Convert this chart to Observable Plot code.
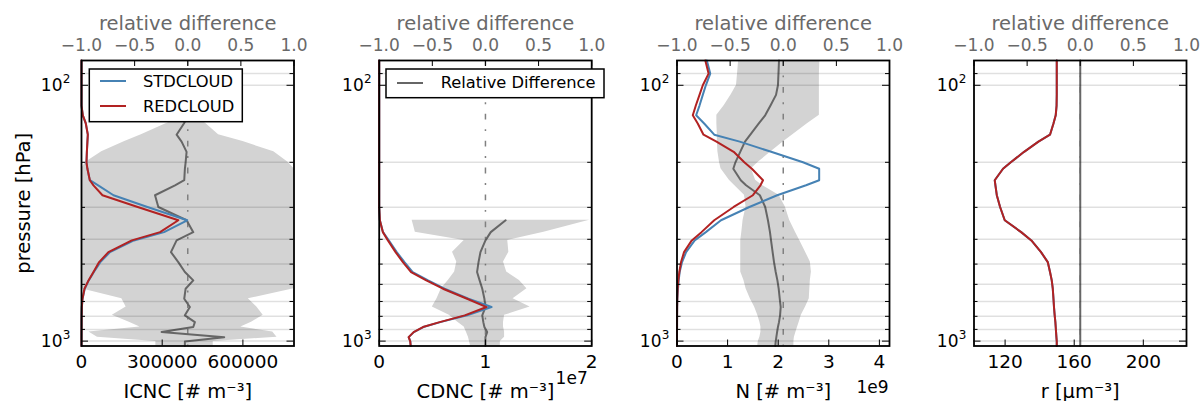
<!DOCTYPE html>
<html><head><meta charset="utf-8">
<script src="https://cdn.jsdelivr.net/npm/d3@7"></script>
<script src="https://cdn.jsdelivr.net/npm/@observablehq/plot@0.6"></script>
<style>
html,body{margin:0;padding:0;background:#fff;}
#chart{position:relative;width:1203px;height:401px;overflow:hidden;font-family:"DejaVu Sans",sans-serif;}
#chart svg{position:absolute;left:0;top:0;}
</style></head><body><div id="chart"></div>
<script>
// pressure levels (hPa)
const levels = [80, 90, 100, 109, 120, 131, 141, 156, 166, 182, 200, 212, 235, 246, 269, 299, 337, 375, 404, 449, 491, 537, 579, 624, 683, 736, 793, 843, 881, 922, 965, 1003, 1045];
const gridLevels = [90, 100, 200, 300, 400, 500, 600, 700, 800, 900, 1000];
const yMajor = [100, 1000];
const yMinor = [90, 200, 300, 400, 500, 600, 700, 800, 900];
const yExponents = ["2", "3"];
const relTicks = [-1, -0.5, 0, 0.5, 1];
const N = null;

// ICNC panel
const icncStd = [0,0,0,0,0, 5000,16000,23500,22000,20000, 18500,22000,31000,62000,119000, 245000,393000,307000,195000,106000, 70000,46000,27000,12000,4000, 1300,500,300,200,100, 0,0,0];
const icncRed = [0,0,0,0,0, 5000,16000,23500,22000,20000, 18500,22000,31000,44500,78000, 209000,360000,292000,187000,100000, 65500,44500,26000,11000,3700, 1200,500,300,200,100, 0,0,0];
const icncRel = [N,N,N,N,N, 0.005,-0.036,-0.105,-0.058,-0.011, -0.02,-0.027,-0.033,-0.12,-0.308, -0.277,-0.011,0.052,-0.105,-0.158, -0.089,-0.027,0.052,-0.02,-0.033, 0.02,-0.027,0.067,0.052,-0.246, 0.343,-0.027,-0.027];
const icncLo = [N,N,N,N,N, -0.02,-0.2,-0.437,-0.593,-0.81, -0.96,-1,-1,-1,-1, -1,-1,-1,-1,-1, -1,-1,-1,-1,-0.62, -0.58,-0.71,-0.55,-0.45,-0.93, -0.85,-0.3,-0.3];
const icncHi = [N,N,N,N,N, 0.06,0.17,0.29,0.52,0.81, 0.944,1,1,1,1, 1,1,1,1,1, 1,1,1,1,0.57, 0.65,0.71,0.6,0.5,0.8, 0.84,0.24,0.24];

// CDNC panel
const cdncStd = [0,0,0,0,0, 0,0,0,0,0, 0,0,0,0,0, 0, 63000,360000,900000,1650000,2380000, 3150000,4600000,6150000,8400000,10570000, 8270000,5750000,4150000,3260000,2780000, 2930000,2970000];
const cdncRed = [0,0,0,0,0, 0,0,0,0,0, 0,0,0,0,0, 0, 63000,346000,818000,1540000,2230000, 3000000,4430000,6000000,8270000,10100000, 8050000,5690000,4120000,3240000,2770000, 2920000,2960000];
const cdncRel = [N,N,N,N,N, N,N,N,N,N, N,N,N,N,N, N, 0.19,0.05,0.0,-0.047,-0.065, -0.079,-0.055,-0.03,-0.01,0.0, -0.03,-0.02,-0.01,0.016,0.0, 0.0,0.0];
const cdncLo = [N,N,N,N,N, N,N,N,N,N, N,N,N,N,N, N, -0.69,-0.66,-0.2,-0.31,-0.27, -0.29,-0.35,-0.415,-0.456,-0.5, -0.34,-0.26,-0.2,-0.18,-0.16, -0.15,-0.14];
const cdncHi = [N,N,N,N,N, N,N,N,N,N, N,N,N,N,N, N, 0.98,0.55,0.21,0.22,0.17, 0.2,0.32,0.39,0.26,0.42, 0.18,0.17,0.17,0.18,0.18, 0.14,0.14];

// N panel
const nStd = [5.9e8,6.57e8,5.7e8,5.1e8,4.45e8, 3.78e8,5.37e8,7.36e8,1.24e9,1.86e9, 2.49e9,2.81e9,2.81e9,2.55e9,1.98e9, 1.43e9,8.7e8,5.7e8,3.5e8,1.8e8, 1e8,5.3e7,3.3e7,2e7,6.6e6, 3e6,2e6,1e6,1e6,0, 0,0,0];
const nRed = [5.6e8,6.24e8,5.1e8,4.45e8,3.72e8, 3.12e8,4.1e8,5.24e8,7.8e8,1.12e9, 1.33e9,1.48e9,1.7e9,1.65e9,1.5e9, 1.12e9,7.36e8,4.84e8,2.92e8,1.39e8, 8e7,4.6e7,2.6e7,1.3e7,6e6, 3e6,2e6,1e6,1e6,0, 0,0,0];
const nRel = [-0.04,-0.045,-0.05,-0.068,-0.12, -0.17,-0.23,-0.31,-0.36,-0.405, -0.45,-0.47,-0.4,-0.35,-0.22, -0.17,-0.144,-0.125,-0.115,-0.1, -0.087,-0.071,-0.055,-0.043,-0.033, -0.024,-0.03,-0.04,-0.05,-0.058, -0.065,-0.071,-0.075];
const nLo = [-0.42,-0.43,-0.44,-0.49,-0.555, -0.625,-0.625,-0.62,-0.62,-0.615, -0.6,-0.586,-0.507,-0.46,-0.365, -0.35,-0.378,-0.39,-0.4,-0.4, -0.4,-0.4,-0.37,-0.35,-0.31, -0.27,-0.24,-0.22,-0.21,-0.21, -0.22,-0.235,-0.24];
const nHi = [0.345,0.34,0.34,0.34,0.34, 0.34,0.23,0.09,0.005,-0.115, -0.235,-0.3,-0.26,-0.2,-0.04, 0.02,0.06,0.115,0.155,0.21, 0.255,0.265,0.255,0.25,0.245, 0.21,0.17,0.15,0.135,0.12, 0.105,0.1,0.1];

// r panel
const rStd = [149.9,149.9,149.9,149.9,149.8, 149.3,148.0,146.0,139.3,131.0, 123.3,118.8,114.0,114.4,115.2, 117.1,119.8,129.3,135.2,140.8, 144.7,146.0,147.0,147.6,148.0, 148.3,148.7,149.1,149.3,149.5, 149.7,149.9,149.9];
const rRed = [149.9,149.9,149.9,149.9,149.8, 149.3,148.0,146.0,139.3,131.0, 123.3,118.8,114.0,114.4,115.2, 117.1,119.8,129.3,135.2,140.8, 144.7,146.0,147.0,147.6,148.0, 148.3,148.7,149.1,149.3,149.5, 149.7,149.9,149.9];
const rRel = [0,0,0,0,0, 0,0,0,0,0, 0,0,0,0,0, 0,0,0,0,0, 0,0,0,0,0, 0,0,0,0,0, 0,0,0];

const xLabels = ["ICNC [# m\u207B\u00B3]", "CDNC [# m\u207B\u00B3]", "N [# m\u207B\u00B3]", "r [\u03BCm\u207B\u00B3]"];
const ticks1 = [0, 300000, 600000];
const ticks2 = [0, 1e7, 2e7];
const ticks3 = [0, 1e9, 2e9, 3e9, 4e9];
const ticks4 = [120, 160, 200];

const W = 1203, H = 401, TOP = 60, BOTTOM = 345.5, FW = 212.5, FH = BOTTOM - TOP;
const panelLeft = [81, 378.7, 676.5, 973.5];
const FONT = '"DejaVu Sans", sans-serif';
const BLUE = "#4682b4", RED = "#b22222", GRAY = "#666666";

function base(left) {
  return {width: W, height: H, marginLeft: left, marginRight: W - left - FW, marginTop: TOP, marginBottom: H - BOTTOM,
    style: {background: "transparent", fontFamily: FONT, overflow: "visible"}};
}
const yScale = {type: "log", domain: [80, 1045], reverse: true, axis: null};

function relPlot(i, rel, lo, hi) {
  const rows = levels.map((p, j) => ({p, rel: rel[j], lo: lo ? lo[j] : null, hi: hi ? hi[j] : null}));
  const band = rows.filter(d => d.lo != null && d.hi != null);
  const line = rows.filter(d => d.rel != null);
  return Plot.plot({
    ...base(panelLeft[i]),
    x: {domain: [-1, 1]},
    y: yScale,
    marks: [
      Plot.areaX(band, {y: "p", x1: "lo", x2: "hi", fill: "#d3d3d3"}),
      Plot.ruleX([0], {stroke: "#808080", strokeWidth: 1.5, strokeDasharray: "5.8,9.6,1.9,9.6"}),
      Plot.lineX(line, {x: "rel", y: "p", stroke: GRAY, strokeWidth: 2}),
      Plot.ruleX(relTicks, {insetBottom: FH - 6, stroke: "#000"}),
      Plot.axisX(relTicks, {anchor: "top", tickSize: 0, tickPadding: 10, fontSize: 17, color: "dimgray", tickFormat: d3.format(".1f"), label: null}),
      Plot.text(["relative difference"], {text: d => d, frameAnchor: "top", lineAnchor: "bottom", dy: -(TOP - 29), fontSize: 19.5, fill: "dimgray"})
    ]
  });
}

function mainPlot(i, opt) {
  const rows = levels.map((p, j) => ({p, std: opt.std[j], red: opt.red[j]}));
  const marks = [
    Plot.ruleY(gridLevels, {stroke: "#000", strokeOpacity: 0.12, strokeWidth: 1.5}),
    Plot.lineX(rows, {x: "std", y: "p", stroke: BLUE, strokeWidth: 2}),
    Plot.lineX(rows, {x: "red", y: "p", stroke: RED, strokeWidth: 2}),
    Plot.ruleY(yMajor, {insetRight: FW - 7}),
    Plot.ruleY(yMajor, {insetLeft: FW - 7}),
    Plot.ruleY(yMinor, {insetRight: FW - 4}),
    Plot.ruleY(yMinor, {insetLeft: FW - 4}),
    Plot.ruleX(opt.ticks, {insetTop: FH - 6}),
    Plot.frame({stroke: "#000", strokeWidth: 1.8}),
    Plot.axisX(opt.ticks, {anchor: "bottom", tickSize: 0, tickPadding: 9, fontSize: 18.5, tickFormat: opt.fmt, label: null}),
    // y tick labels: base "10" and raised exponent
    Plot.text(yMajor, {y: d => d, text: () => "10", frameAnchor: "left", textAnchor: "end", lineAnchor: "middle", dx: -opt.ypad - 8, fontSize: 17}),
    Plot.text(yMajor, {y: d => d, text: (d, k) => yExponents[k], frameAnchor: "left", textAnchor: "end", lineAnchor: "middle", dx: -opt.ypad, dy: -6, fontSize: 12}),
    Plot.text([opt.label], {text: d => d, frameAnchor: "bottom", lineAnchor: "bottom", dy: 397 - BOTTOM, fontSize: 19.5})
  ];
  if (opt.offset) marks.push(Plot.text([opt.offset], {text: d => d, frameAnchor: "bottom-right", textAnchor: "end", lineAnchor: "bottom", dy: opt.offsetY - BOTTOM, dx: opt.offsetDx, fontSize: 17}));
  if (opt.ylabel) marks.push(Plot.text([opt.ylabel], {text: d => d, frameAnchor: "left", rotate: -90, textAnchor: "middle", lineAnchor: "bottom", dx: 29 - panelLeft[0], fontSize: 19.5}));
  return Plot.plot({...base(panelLeft[i]), x: {domain: opt.domain, axis: null}, y: yScale, marks});
}

const chart = document.getElementById("chart");
const panels = [
  {rel: icncRel, lo: icncLo, hi: icncHi, std: icncStd, red: icncRed, domain: [0, 790000], ticks: ticks1, fmt: d => String(d), label: xLabels[0], ylabel: "pressure [hPa]", ypad: 11},
  {rel: cdncRel, lo: cdncLo, hi: cdncHi, std: cdncStd, red: cdncRed, domain: [0, 2e7], ticks: ticks2, fmt: d => String(d / 1e7), label: xLabels[1], offset: "1e7", offsetY: 383.3, offsetDx: -4, ypad: 7.5},
  {rel: nRel, lo: nLo, hi: nHi, std: nStd, red: nRed, domain: [0, 4.2e9], ticks: ticks3, fmt: d => String(d / 1e9), label: xLabels[2], offset: "1e9", offsetY: 392.7, offsetDx: -1, ypad: 7.5},
  {rel: rRel, lo: null, hi: null, std: rStd, red: rRed, domain: [102, 225], ticks: ticks4, fmt: d => String(d), label: xLabels[3], ypad: 7.5}
];
panels.forEach((o, i) => {
  chart.appendChild(relPlot(i, o.rel, o.lo, o.hi));
  chart.appendChild(mainPlot(i, o));
});

// legends
const leg = d3.create("svg").attr("width", W).attr("height", H).style("font-family", FONT);
const g1 = leg.append("g");
g1.append("rect").attr("x", 89.3).attr("y", 69).attr("width", 153).attr("height", 52.7).attr("fill", "#fff").attr("stroke", "#000").attr("stroke-width", 1.5);
[["STDCLOUD", BLUE, 81, 87.3], ["REDCLOUD", RED, 106, 111.7]].forEach(([t, c, ly, by]) => {
  g1.append("line").attr("x1", 100).attr("x2", 126).attr("y1", ly).attr("y2", ly).attr("stroke", c).attr("stroke-width", 2);
  g1.append("text").attr("x", 143).attr("y", by).attr("font-size", 16.3).text(t);
});
const g2 = leg.append("g");
g2.append("rect").attr("x", 386).attr("y", 69).attr("width", 218).attr("height", 28.7).attr("fill", "#fff").attr("stroke", "#000").attr("stroke-width", 1.5);
g2.append("line").attr("x1", 397).attr("x2", 423).attr("y1", 83).attr("y2", 83).attr("stroke", GRAY).attr("stroke-width", 2);
g2.append("text").attr("x", 440.7).attr("y", 88.3).attr("font-size", 16.3).text("Relative Difference");
chart.appendChild(leg.node());
</script></body></html>
